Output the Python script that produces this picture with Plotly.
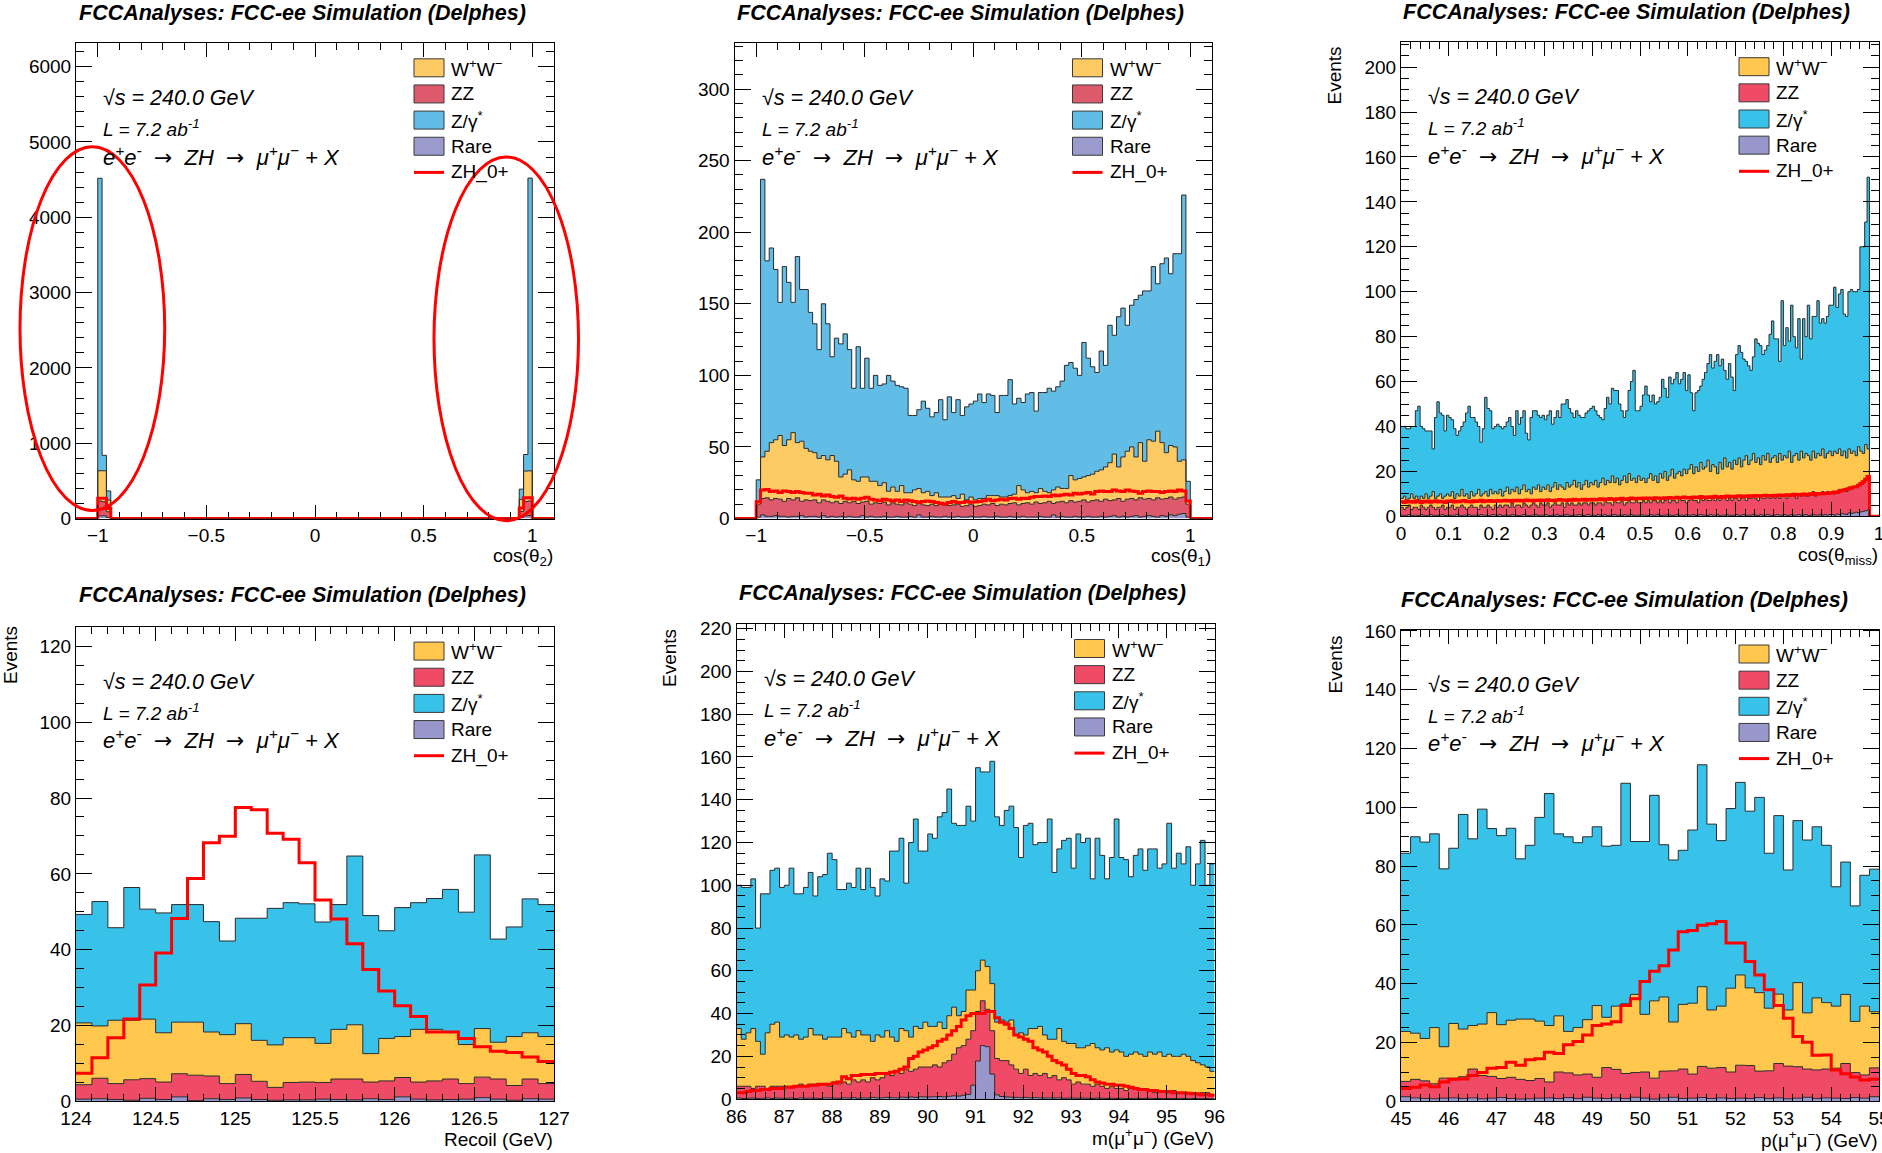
import numpy as np
import plotly.graph_objects as go

W, H = 1882, 1153
FONT = "Liberation Sans, Arial, Helvetica, sans-serif"

# ======================= DATA =======================
# Panel 1 : cos(theta_2), 0.02 bins on [-1, 1]; only the edge bins are populated
p1_left_rare = [36, 36, 13]
p1_left_zz = [196, 187, 77]
p1_left_ww = [402, 411, 155]
p1_left_zg = [3884, 205, 121]
p1_left_zh = [268, 268, 134]
p1_right_rare = [14, 35, 38]
p1_right_zz = [80, 190, 195]
p1_right_ww = [160, 405, 400]
p1_right_zg = [136, 220, 3887]
p1_right_zh = [140, 275, 275]
p1_empty_bins = 94

# Panel 2 : cos(theta_1), 100 bins of 0.02 on [-1, 1]
p2_rare = [1.0, 2.5,1.5,1.5,2.0,1.5,1.5,1.0,1.5,1.5,2.0, 1.0,1.5,1.5,1.0,2.0,1.0,1.5,1.0,1.5,1.0,
           1.5,1.0,1.0,2.0,1.0,1.5,1.0,1.0,1.5,1.0, 1.0,1.5,1.0,1.0,1.5,1.0,2.5,1.0,1.0,1.5,
           1.0,1.0,1.5,1.0,1.0,1.5,1.0,1.0,1.5,1.0, 1.0,1.5,1.0,1.0,1.5,1.0,1.0,1.5,1.0,1.0,
           1.5,1.0,1.0,1.0,1.5,1.0,1.0,2.5,1.0,1.5, 1.0,1.0,1.5,1.0,1.0,1.5,1.0,1.0,1.5,1.0,
           1.5,2.0,1.0,1.5,1.0,1.5,2.0,1.0,1.5,2.0, 1.5,1.0,2.0,1.5,2.5,2.0,3.0,3.5, 1.0]
p2_zz = [9, 11.5,13,11.5,12,12,10.5,13,11.5,13,10, 12,11,11.5,10,11,11,9.5,11,9,11,
         9.5,11,9.5,9.5,11,8.5,10,9.5,10,8.5, 10,8.5,8.5,10,8.5,8,8,8.5,8,8.5,
         8,9,8,8,8.5,8.5,7.5,8,8.5,7.5, 8,8.5,8.5,9.5,7.5,9,8.5,9,10,8.5,
         9,10,9,10.5,9,10,11,8,10.5,10.5, 10,11.5,10,11,12,10,11.5,12,10.5,12.5,
         11,11,13,10.5,12.5,12.5,11,13.5,12,12, 11.5,13.5,11.5,12.5,12.5,11.5,11.5,11.5, 9]
p2_ww = [2, 29,32.5,40,41,44.5,39,41,47,38.5,42, 36,34.5,33,31,31,29,33,28,18.5,19,
         23,15,15.5,17.5,17,16,15,12.5,13.5,9.5, 11,9,13.5,7,8,11,10.5,8.5,10,6,
         9,5,5.5,6,6.5,4,8.5,4,5,4.5, 5,4,6.5,5.5,7,5,5.5,5.5,6,13.5,
         9.5,7,9,6.5,10.5,8,6,9.5,10.5,9, 10,17.5,15.5,16,16,18.5,18.5,20,22,22.5,
         26.5,32,22,31,33.5,36,30,38.5,26.5,41, 41,46.5,39.5,32,36,36.5,25.5,26, 2]
p2_zg = [15, 194,133,136,119,93,125,110,91,130,106, 111,97,90,76,106,95,69,86,93,98,
         84,64,94,62,83,65,74,70,69,81, 74,74,69,73,54,52,55,64,58,55,
         56,68,54,70,58,69,55,65,65,69, 73,67,71,70,58,71,71,81,63,61,
         61,69,69,57,67,69,73,69,70,75, 86,79,78,72,94,82,75,69,83,71,
         96,83,105,104,88,99,110,103,119,104, 122,103,125,136,120,135,145,185, 14]
p2_zh = [11.7, 19.9,20.3,18.8,19.3,18.1,19.3,18.8,18.1,18.8,18.1, 17.6,17.6,16.4,16.9,15.7,16.4,15.3,14.8,15.7,14.1,
         13.6,14.1,13.4,14.1,14.8,13.4,12.9,12.4,13.4,12.9, 12.2,12.9,11.8,12.9,12.4,11.8,11.1,11.8,12.2,11.8,
         11.1,10.6,10.1,11.1,11.8,11.1,11.1,11.8,11.4,11.6, 11.8,12.4,13.4,12.4,12.9,13.4,12.9,13.9,14.1,13.4,
         14.1,13.9,14.8,15.3,15.3,15.7,15.3,16.4,15.9,16.4, 16.9,16.4,17.6,17.1,17.6,18.1,17.1,18.8,19.3,18.8,
         18.8,19.9,19.3,18.8,19.9,19.3,18.8,17.6,18.8,19.3, 18.8,18.8,18.1,18.8,19.3,18.8,19.9,19.3, 12.2]

# Panel 3 : cos(theta_miss), 196 bins of 0.005 on [0, 0.98]
p3_rare = [0.5,0.3,0.5,0.8,0.3,0.5,0.5,0.3,0.8,0.5,0.3,0.5,0.8,0.5,0.3,0.5,0.5,0.8,0.3,0.5,
           0.3,0.5,0.5,0.8,0.5,0.3,0.5,0.5,0.8,0.3,0.5,0.5,0.3,0.8,0.5,0.5,0.3,0.5,0.8,0.5,
           0.5,0.8,0.3,0.5,0.5,0.3,0.8,0.5,0.5,0.3,0.5,0.8,0.5,0.3,0.5,0.5,0.8,0.3,0.5,0.5,
           0.8,0.5,0.3,0.5,0.5,0.8,0.3,0.5,0.5,0.8,0.5,0.3,0.5,0.5,0.8,0.5,0.3,0.5,0.8,0.5,
           0.5,0.3,0.8,0.5,0.5,0.8,0.3,0.5,0.5,0.8,0.5,0.5,0.3,0.8,0.5,0.5,0.8,0.3,0.5,0.5,
           0.8,0.5,0.5,0.3,0.8,0.5,0.5,0.8,0.3,0.5,0.5,0.8,0.5,0.3,0.5,0.8,0.5,0.5,0.3,0.8,
           0.5,0.5,0.8,0.3,0.5,0.8,0.5,0.5,0.3,0.8,0.5,0.5,0.8,0.3,0.5,0.5,0.8,0.5,0.3,0.5,
           0.8,0.5,0.5,0.8,0.3,0.5,0.5,0.8,0.5,0.3,0.8,0.5,0.5,0.8,0.5,0.3,0.5,0.8,0.5,0.5,
           0.8,0.5,0.3,0.8,0.5,0.5,0.8,0.5,0.5,0.8,0.3,0.5,0.8,0.5,0.5,0.8,0.5,0.8,0.5,0.8,
           0.8,0.5,1.0,0.8,1.2,1.0,0.8,1.5,1.2,1.5,1.8,1.5,2.0,2.2,2.5,2.8]
p3_zz = [3.5,2.7,3.5,4.2,2.7,3.5,3.5,2.7,4.2,3.5,2.7,3.5,4.2,3.5,2.7,3.5,3.5,4.2,2.7,3.5,
         3.7,4.5,2.5,3.2,3.5,4.7,3.5,2.5,3.2,4.7,3.5,3.5,2.7,4.2,3.5,3.5,4.7,3.5,2.2,4.5,
         3.5,4.2,3.7,4.5,4.5,3.7,5.2,3.5,4.5,4.7,3.5,5.2,4.5,3.7,4.5,5.5,4.2,3.7,5.5,4.5,
         4.2,5.5,3.7,4.5,5.5,4.2,4.7,5.5,3.5,5.2,4.5,5.7,4.5,4.5,5.2,4.5,5.7,5.5,4.2,5.5,
         5.5,4.7,5.2,5.5,4.5,6.2,5.7,5.5,4.5,6.2,5.5,5.5,6.7,4.2,5.5,6.5,5.2,5.7,6.5,5.5,
         5.2,6.5,5.5,6.7,5.2,6.5,6.5,5.2,6.7,5.5,6.5,7.2,5.5,6.7,6.5,5.2,7.5,6.5,6.7,5.2,
         6.5,7.5,6.2,6.7,5.5,7.2,6.5,7.5,6.7,6.2,7.5,6.5,7.2,6.7,7.5,7.5,6.2,7.5,6.7,7.5,
         7.2,6.5,7.5,8.2,6.7,7.5,7.5,8.2,7.5,6.7,8.2,7.5,7.5,8.2,7.5,8.7,7.5,8.2,7.5,8.5,
         8.2,7.5,8.7,9.2,8.5,7.5,9.2,8.5,9.5,8.2,8.7,9.5,10.2,8.5,9.5,9.2,10.5,9.2,10.5,9.2,
         10.2,9.5,10.0,11.2,9.8,11.0,10.2,11.5,10.8,11.5,11.2,12.5,12.0,12.8,13.5,15.2]
p3_ww = [4,6,3,3,7,4,5,4,4,4,7,4,4,7,5,5,6,3,6,6,
         5,6,5,6,5,7,5,7,4,6,5,6,9,4,6,7,4,8,7,6,
         6,7,5,6,8,6,6,7,8,5,8,8,6,8,5,7,7,10,5,8,
         7,8,7,8,9,7,9,7,8,9,8,8,11,8,9,7,8,10,8,9,
         8,11,7,9,12,7,10,9,13,8,11,8,9,13,9,12,10,11,8,12,
         10,10,9,10,13,9,11,9,12,11,13,8,12,14,10,13,12,11,14,13,
         14,15,12,15,14,16,14,14,18,13,15,15,11,17,13,18,15,16,14,17,
         15,19,14,16,20,15,17,19,16,19,14,19,17,19,16,17,19,15,20,16,
         18,18,20,14,18,20,15,20,16,19,18,15,18,17,18,17,19,16,17,19,
         16,19,17,18,16,17,15,17,16,16,14,17,15,13,16,12]
p3_zg = [32,31,32,31,30,32,38,42,31,31,28,30,29,19,36,42,36,37,29,35,
         35,32,31,26,29,28,33,36,41,33,35,32,28,24,29,42,39,35,29,29,
         31,28,30,29,29,34,28,25,34,31,32,33,26,22,34,34,35,31,33,32,
         31,31,36,28,29,35,30,37,38,37,35,32,28,34,30,32,30,30,34,33,
         35,31,32,29,26,34,37,35,39,41,39,36,31,26,32,37,44,48,32,29,
         33,37,43,37,32,38,32,36,34,44,37,37,44,38,44,45,39,43,43,37,
         42,32,28,33,36,34,40,42,43,52,43,47,53,43,49,39,39,44,41,31,
         49,50,51,45,42,44,40,43,55,51,53,45,49,48,57,61,52,55,41,71,
         49,58,49,70,53,47,63,41,62,52,67,54,60,63,68,59,58,60,61,65,
         67,73,65,69,74,61,63,70,73,71,73,70,91,92,99,121]
p3_zh = [6.5,6.2,6.8,6.4,6.6,6.3,6.9,6.5,6.2,6.7,6.4,6.8,6.3,6.6,6.9,6.4,6.7,6.5,6.2,6.8,
         6.6,6.9,6.4,6.7,6.5,6.8,7.0,6.5,6.7,6.4,6.9,6.6,6.8,7.1,6.5,6.9,6.7,7.0,6.6,6.8,
         7.0,6.7,6.9,7.2,6.8,7.0,6.7,7.1,6.9,7.2,6.8,7.0,7.3,6.9,7.1,6.8,7.2,7.0,7.3,6.9,
         7.1,7.4,7.0,7.2,6.9,7.3,7.5,7.1,7.3,7.0,7.4,7.2,7.6,7.1,7.4,7.3,7.6,7.2,7.5,7.3,
         7.6,7.3,7.5,7.8,7.4,7.7,7.5,7.9,7.6,7.4,7.8,7.6,8.0,7.7,7.5,7.9,8.1,7.7,7.9,8.0,
         7.8,8.1,7.9,8.2,8.0,7.8,8.3,8.0,8.2,7.9,8.3,8.1,8.4,8.0,8.2,8.5,8.1,8.3,8.6,8.2,
         8.4,8.2,8.6,8.3,8.5,8.8,8.4,8.6,8.3,8.7,8.5,8.9,8.6,8.4,8.8,8.6,9.0,8.7,8.9,8.6,
         8.9,9.1,8.7,9.0,8.8,9.2,8.9,9.1,9.3,8.9,9.2,9.0,9.4,9.1,9.3,9.0,9.4,9.2,9.5,9.3,
         9.4,9.6,9.3,9.5,9.8,9.4,9.7,9.5,9.9,9.6,9.8,10.0,9.7,10.1,9.9,10.2,10.0,10.3,10.1,10.4,
         10.5,10.8,10.6,11.1,11.4,11.8,12.0,12.3,12.7,13.0,13.2,13.8,14.6,15.4,16.5,17.7]

# Panel 4 : recoil mass, 30 bins of 0.1 GeV on [124, 127]
p4_rare = [0.6,0.7,0.5,0.3,0.8,0.5,1.2,0.2,0.7,0.5,0.9,0.5,0.3,0.4,0.4,0.6,0.5,0.4,0.7,0.5,1.2,0.6,0.4,0.5,0.6,1.0,0.6,0.3,0.7,0.6]
p4_zz = [3.8,5.4,4.2,5.4,5.2,4.6,6.1,6.7,6.0,4.2,6.2,4.8,3.4,4.6,4.7,4.4,5.4,5.5,4.4,4.9,5.1,4.5,5.0,5.4,4.1,5.4,5.3,3.9,5.2,4.1]
p4_ww = [16.3,13.8,16.7,15.7,15.7,13.0,13.6,14.0,11.6,12.9,13.4,10.8,11.2,11.8,11.7,10.3,13.1,14.3,7.5,11.2,10.8,13.9,13.6,12.4,10.3,12.8,9.7,12.9,12.2,12.4]
p4_zg = [28.6,32.8,24.4,35.0,29.0,31.6,31.0,31.0,29.1,24.7,27.8,32.2,36.0,35.6,35.3,32.0,32.9,44.5,36.4,28.4,34.0,33.4,34.5,37.6,34.9,45.8,27.2,28.9,35.3,34.8]
p4_zh = [7.4,11.5,16.8,21.7,30.7,39.1,48.2,58.8,68.2,69.9,77.5,76.9,70.7,69.1,62.9,53.1,48.1,41.6,34.8,29.1,25.2,22.4,18.3,18.3,16.6,14.4,13.2,12.9,11.7,10.5]

# Panel 5 : m(mu+mu-), 100 bins of 0.1 GeV on [86, 96]
p5_rare = [0.5,0.3,0.4,0.5,0.3,0.4,0.6,0.3,0.5,0.4, 0.4,0.5,0.3,0.6,0.4,0.5,0.4,0.3,0.6,0.5,
           0.5,0.4,0.6,0.5,0.7,0.4,0.6,0.5,0.8,0.6, 0.6,0.8,0.7,0.6,0.9,0.8,1.0,0.8,1.1,1.0,
           1.0,1.1,1.2,1.0,1.3,1.5,1.4,1.8,2.2,6.5, 17.8,25.0,24.5,11.7,2.0,1.2,1.0,0.9,0.8,0.7,
           0.8,0.6,0.7,0.6,0.5,0.6,0.5,0.6,0.4,0.5, 0.5,0.4,0.5,0.4,0.3,0.5,0.4,0.3,0.4,0.3,
           0.4,0.3,0.3,0.4,0.3,0.3,0.4,0.3,0.3,0.2, 0.3,0.3,0.2,0.3,0.2,0.3,0.2,0.2,0.3,0.2]
p5_zz = [5.5,5.7,5.6,4.5,5.7,5.6,4.4,5.7,5.5,5.6, 5.6,5.5,5.7,6.4,5.6,6.5,6.6,6.7,6.4,5.5,
         7.5,6.6,7.4,6.5,8.3,7.6,8.4,7.5,9.2,8.4, 9.4,11.2,10.3,12.4,11.1,13.2,12.0,13.2,13.9,14.0,
         14.0,14.9,13.8,16.0,16.7,19.5,22.6,23.2,25.8,25.5, 23.2,21.0,17.5,20.3,17.0,16.8,17.0,15.1,13.2,11.3,
         13.2,10.4,11.3,10.4,11.5,9.4,10.5,8.4,9.6,8.5, 6.5,7.6,6.5,6.6,5.7,6.5,5.6,4.7,5.6,4.7,
         4.6,3.7,4.7,4.6,3.7,3.7,3.6,2.7,3.7,3.8, 2.7,3.7,2.8,2.7,2.8,2.7,1.8,2.8,2.7,1.8]
p5_ww = [27,22,25,28,21,15,26,29,30,23, 24,23,24,21,23,26,23,23,21,23,
         21,22,25,24,20,24,21,22,17,21, 19,20,18,14,21,18,16,20,18,21,
         19,18,21,16,21,22,15,16,23,19, 19,19,20,22,17,19,18,21,16,19,
         16,22,21,23,18,18,17,24,17,17, 19,16,17,18,20,17,17,19,16,18,
         17,16,16,17,17,16,18,18,18,16, 18,16,17,18,17,15,15,13,12,11]
p5_zg = [67,71,68,70,53,75,65,72,72,70, 70,79,66,68,70,73,65,74,77,86,
         83,69,65,70,70,76,68,78,72,65, 74,70,87,89,89,69,91,97,83,80,
         90,88,96,101,106,86,89,87,86,79, 95,88,91,104,96,91,99,100,97,82,
         98,96,86,86,90,103,78,84,94,96, 82,100,96,97,77,98,91,79,91,108,
         91,92,83,92,96,87,95,96,86,90, 108,88,95,89,98,82,93,105,85,97]
p5_zh = [3,3,3.5,4,4,4.5,4.5,5,5,5, 5.5,5.5,6,6,6,6.5,6.5,7,7,7,
         7.5,8,10.5,9.5,11,11,11.5,11.5,11.5,12, 12,12,12.5,13,14,15,19,20,22,23,
         24,25,27,28,30,32,34,37,39,40, 40,40,41,41,38,36,35,33,30,29,
         28,27,24,23,22,20,18,17,16,14, 12,11,11,10.5,9,8,7.5,7,7,6.5,
         6.5,6,5.5,5,4.5,4.5,4,4,3.5,3.5, 3.5,3,3,3,2.7,2.5,2.5,2,2,1.8]

# Panel 6 : p(mu+mu-), 50 bins of 0.2 GeV on [45, 55]
p6_rare = [1.6,1.2,1.0,0.9,1.1,1.2,1.0,1.2,0.9,1.1,1.3,1.0,0.8,0.9,1.1,1.2,1.0,1.3,1.0,1.4,1.1,1.0,1.2,1.0,1.4,
           1.1,0.8,1.2,1.4,1.0,1.1,1.3,1.0,1.2,1.0,1.1,1.0,1.3,1.0,1.2,0.9,1.1,1.4,1.0,1.2,1.1,1.0,1.3,1.1,1.6]
p6_zz = [5.2,6.3,6.0,5.1,6.8,6.7,7.4,9.8,7.9,7.4,6.5,7.2,6.7,6.2,6.7,5.4,9.0,8.4,8.0,7.9,7.1,10.5,9.7,8.5,8.4,
         8.9,7.1,9.1,9.0,10.0,8.2,10.6,10.3,10.3,9.0,11.2,11.2,9.0,9.4,11.7,11.1,10.7,9.6,9.7,9.8,10.2,11.9,8.5,7.9,9.8]
p6_ww = [17.0,15.7,14.4,19.1,10.7,18.6,16.2,14.8,17.5,21.7,18.3,19.4,20.5,20.9,19.5,19.2,19.1,14.1,16.1,18.5,24.4,17.1,21.5,23.7,26.6,
         19.6,26.3,25.2,16.6,22.0,24.1,27.1,19.8,20.9,28.5,30.7,26.4,26.7,21.3,23.6,19.1,28.6,19.1,24.5,22.6,21.1,23.5,17.4,23.4,19.1]
p6_zg = [60.6,66.8,66.8,65.9,60.5,59.6,73.0,63.5,73.1,62.6,64.3,65.3,54.5,59.1,69.3,78.9,61.9,66.2,62.9,62.2,60.8,58.2,54.7,75.0,52.0,
         58.8,69.9,51.8,55.1,52.4,58.9,75.5,63.2,56.3,61.1,65.5,60.1,66.4,52.7,60.7,47.6,55.1,58.8,58.2,53.5,40.6,45.0,39.3,44.5,48.5]
p6_zh = [4.4,4.8,5.6,5.0,6.6,7.5,7.6,8.8,9.8,11.3,11.5,13.3,12.3,14.2,14.5,16.7,16.3,19.3,20.4,22.6,25.8,26.3,27.1,32.6,34.9,
         40.8,44.3,46.1,51.5,57.7,58.1,59.9,60.4,61.2,53.9,53.9,47.6,43.0,38.0,32.6,28.3,22.1,20.1,15.7,15.8,10.7,9.4,8.3,7.3,7.5]

legend_labels = ["W<sup>+</sup>W<sup>\u2212</sup>", "ZZ", "Z/\u03b3<sup>*</sup>", "Rare", "ZH_0+"]
title_text = "FCCAnalyses: FCC-ee Simulation (Delphes)"
x_titles = ["cos(\u03b8<sub>2</sub>)", "cos(\u03b8<sub>1</sub>)", "cos(\u03b8<sub>miss</sub>)",
            "Recoil (GeV)", "m(\u03bc<sup>+</sup>\u03bc<sup>\u2212</sup>) (GeV)", "p(\u03bc<sup>+</sup>\u03bc<sup>\u2212</sup>) (GeV)"]

# ======================= STYLE =======================
MUTED = dict(ww="#FDCA64", zz="#DC5A6B", zg="#62BDE6", rare="#9A9ACC")
BRIGHT = dict(ww="#FFC74D", zz="#F04B66", zg="#38C2EA", rare="#9797CC")
OUTLINE = "#2b2b2b"
SIGNAL = "#FF0000"


def pad(vals, before, after):
    return [0.0] * before + list(vals) + [0.0] * after


gap = [0] * p1_empty_bins
p1 = {k: a + gap + b for k, a, b in [
    ("rare", p1_left_rare, p1_right_rare), ("zz", p1_left_zz, p1_right_zz),
    ("ww", p1_left_ww, p1_right_ww), ("zg", p1_left_zg, p1_right_zg), ("zh", p1_left_zh, p1_right_zh)]}

edges_cos = np.concatenate([[-1.1], np.linspace(-1, 1, 101), [1.1]])
edges_p3 = np.concatenate([np.linspace(0, 0.98, 197), [1.0]])

panels = [
    dict(frame=(76, 554, 43.3, 518.5), xr=[-1.1, 1.1], yr=[0, 6310], xd=0.5, xm=0.1, yd=1000, ym=200,
         colors=MUTED, edges=edges_cos,
         series=[pad(p1["rare"], 1, 1), pad(p1["zz"], 1, 1), pad(p1["ww"], 1, 1), pad(p1["zg"], 1, 1)],
         zh=pad(p1["zh"], 1, 1), xt_y=557.4, title=(302, 12.8), events=None),
    dict(frame=(734.5, 1212, 43.3, 518.5), xr=[-1.1, 1.1], yr=[0, 332], xd=0.5, xm=0.1, yd=50, ym=10,
         colors=MUTED, edges=edges_cos,
         series=[pad(p2_rare, 1, 1), pad(p2_zz, 1, 1), pad(p2_ww, 1, 1), pad(p2_zg, 1, 1)],
         zh=pad(p2_zh, 1, 1), xt_y=557.4, title=(960, 12.8), events=None),
    dict(frame=(1401, 1879, 42.2, 516.3), xr=[0, 1], yr=[0, 211.1], xd=0.1, xm=0.02, yd=20, ym=5,
         colors=BRIGHT, edges=edges_p3,
         series=[pad(p3_rare, 0, 1), pad(p3_zz, 0, 1), pad(p3_ww, 0, 1), pad(p3_zg, 0, 1)],
         zh=pad(p3_zh, 0, 1), xt_y=555.6, title=(1626, 11.5), events=(1334.5, 76)),
    dict(frame=(76, 554, 626.6, 1101.4), xr=[124, 127], yr=[0, 125.2], xd=0.5, xm=0.1, yd=20, ym=5,
         colors=BRIGHT, edges=np.linspace(124, 127, 31),
         series=[p4_rare, p4_zz, p4_ww, p4_zg], zh=p4_zh, xt_y=1139, title=(302, 595.3), events=(10, 655)),
    dict(frame=(736.5, 1214.6, 624, 1099.1), xr=[86, 96], yr=[0, 222.2], xd=1, xm=0.2, yd=20, ym=5,
         colors=BRIGHT, edges=np.linspace(86, 96, 101),
         series=[p5_rare, p5_zz, p5_ww, p5_zg], zh=p5_zh, xt_y=1137, title=(963, 593.4), events=(669.5, 658.5)),
    dict(frame=(1401, 1879, 629.5, 1101.4), xr=[45, 55], yr=[0, 160.5], xd=1, xm=0.2, yd=20, ym=5,
         colors=BRIGHT, edges=np.linspace(45, 55, 51),
         series=[p6_rare, p6_zz, p6_ww, p6_zg], zh=p6_zh, xt_y=1139, title=(1624, 600), events=(1335, 664.5)),
]

fig = go.Figure()


def ann(x, y, text, size, xanchor="left", yanchor="middle", angle=0):
    fig.add_annotation(x=x / W, y=1 - y / H, xref="paper", yref="paper", text=text, showarrow=False,
                       xanchor=xanchor, yanchor=yanchor, textangle=angle, borderpad=0,
                       font=dict(family=FONT, size=size, color="black"))


NB = "\u00a0"
ARROW = "<span style='font-family:DejaVu Sans'>\u2192</span>"
process_text = ("<i>e<sup>+</sup>e<sup>-</sup>" + NB * 2 + ARROW + NB * 2 + "ZH" + NB * 2 + ARROW + NB * 2 +
                "\u03bc<sup>+</sup>\u03bc<sup>\u2212</sup>" + NB + "+" + NB + "X</i>")

shapes = []
for i, p in enumerate(panels, start=1):
    xa = "x" if i == 1 else f"x{i}"
    ya = "y" if i == 1 else f"y{i}"
    edges = np.asarray(p["edges"], float)
    keys = ["rare", "zz", "ww", "zg"]
    cum = np.zeros(len(p["series"][0]))
    for j, (vals, key) in enumerate(zip(p["series"], keys)):
        assert len(vals) + 1 == len(edges), (i, key, len(vals), len(edges))
        cum = cum + np.asarray(vals, float)
        fig.add_trace(go.Scatter(x=edges, y=np.append(cum, cum[-1]), mode="lines",
                                 line=dict(shape="hv", color=OUTLINE, width=1),
                                 fill="tozeroy" if j == 0 else "tonexty", fillcolor=p["colors"][key],
                                 xaxis=xa, yaxis=ya, hoverinfo="skip", showlegend=False))
    zh = np.asarray(p["zh"], float)
    assert len(zh) + 1 == len(edges)
    fig.add_trace(go.Scatter(x=edges, y=np.append(zh, zh[-1]), mode="lines",
                             line=dict(shape="hv", color=SIGNAL, width=3),
                             xaxis=xa, yaxis=ya, hoverinfo="skip", showlegend=False))

    x0, x1, y0, y1 = p["frame"]
    common = dict(showline=True, linecolor="black", linewidth=1, mirror="allticks", ticks="inside",
                  tickcolor="black", tickwidth=1, showgrid=False, zeroline=False, fixedrange=True,
                  automargin=False, ticklabeloverflow="allow",
                  tickfont=dict(family=FONT, size=19, color="black"), tickmode="linear")
    xkey = "xaxis" if i == 1 else f"xaxis{i}"
    ykey = "yaxis" if i == 1 else f"yaxis{i}"
    fig.update_layout({
        xkey: dict(common, domain=[x0 / W, x1 / W], range=p["xr"], anchor=ya, tick0=0, dtick=p["xd"], ticklen=14,
                   minor=dict(ticks="inside", ticklen=7, tickcolor="black", tickwidth=1, tick0=0, dtick=p["xm"])),
        ykey: dict(common, domain=[1 - y1 / H, 1 - y0 / H], range=p["yr"], anchor=xa, tick0=0, dtick=p["yd"], ticklen=16,
                   minor=dict(ticks="inside", ticklen=8, tickcolor="black", tickwidth=1, tick0=0, dtick=p["ym"])),
    })

    # title
    ann(p["title"][0], p["title"][1], f"<b><i>{title_text}</i></b>", 21.5, xanchor="center")
    # info text
    ann(x0 + 26, y0 + 55, "<i>\u221as = 240.0 GeV</i>", 21.5)
    ann(x0 + 26, y0 + 85, "<i>L = 7.2 ab<sup>-1</sup></i>", 19)
    ann(x0 + 26, y0 + 112.5, process_text, 22)
    # legend
    fills = [p["colors"]["ww"], p["colors"]["zz"], p["colors"]["zg"], p["colors"]["rare"], None]
    for r, (lab, fc) in enumerate(zip(legend_labels, fills)):
        cy = y0 + 24.5 + 26.15 * r
        if fc is not None:
            shapes.append(dict(type="rect", xref="paper", yref="paper",
                               x0=(x0 + 338) / W, x1=(x0 + 368) / W,
                               y0=1 - (cy + 9) / H, y1=1 - (cy - 9) / H,
                               fillcolor=fc, line=dict(color="#3a3a3a", width=1)))
        else:
            shapes.append(dict(type="line", xref="paper", yref="paper",
                               x0=(x0 + 338) / W, x1=(x0 + 368) / W,
                               y0=1 - cy / H, y1=1 - cy / H, line=dict(color=SIGNAL, width=3)))
        ann(x0 + 374, cy, lab, 19)
    # axis titles
    ann(x1, p["xt_y"], x_titles[i - 1], 19, xanchor="right")
    if p["events"] is not None:
        ann(p["events"][0], p["events"][1], "Events", 19, xanchor="center", angle=-90)

# hand-drawn red ellipses on panel 1
shapes.append(dict(type="circle", xref="paper", yref="paper", x0=20 / W, x1=164.7 / W,
                   y0=1 - 510.5 / H, y1=1 - 146.7 / H, line=dict(color=SIGNAL, width=3), layer="above"))
shapes.append(dict(type="circle", xref="paper", yref="paper", x0=434 / W, x1=578.5 / W,
                   y0=1 - 520.7 / H, y1=1 - 157 / H, line=dict(color=SIGNAL, width=3), layer="above"))

fig.update_layout(width=W, height=H, autosize=False,
                  margin=dict(l=0, r=0, t=0, b=0, pad=0, autoexpand=False),
                  paper_bgcolor="white", plot_bgcolor="white", showlegend=False, shapes=shapes,
                  font=dict(family=FONT, color="black"))

# make the page exactly the size of the figure (no default body margin, no scrollbars)
page_fix = ("var d=document.documentElement,b=document.body;"
            "d.style.margin='0';d.style.padding='0';d.style.overflow='hidden';"
            "b.style.margin='0';b.style.padding='0';b.style.overflow='hidden';")

fig.write_html("out.html", include_plotlyjs=True, full_html=True,
               config={"displayModeBar": False}, post_script=page_fix)
